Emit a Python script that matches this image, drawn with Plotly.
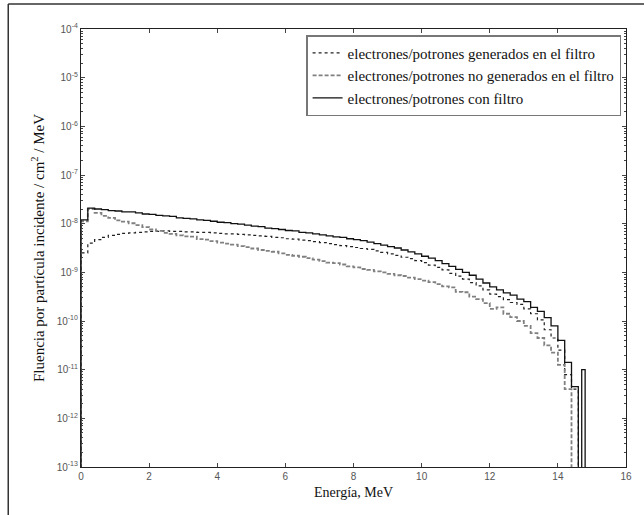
import plotly.graph_objects as go

# Bin left edges (MeV)
energia = [round(0.2 * i, 1) for i in range(73)] + [14.6, 14.7]
energia_fin = 14.8

# Fluence per incident particle / cm^2 / MeV
con_filtro = [
    1.20e-8, 2.09e-8, 2.00e-8, 1.95e-8, 1.86e-8, 1.82e-8, 1.74e-8, 1.74e-8, 1.66e-8, 1.58e-8,
    1.55e-8, 1.48e-8, 1.45e-8, 1.41e-8, 1.32e-8, 1.29e-8, 1.26e-8, 1.20e-8, 1.17e-8, 1.12e-8,
    1.07e-8, 1.05e-8, 1.00e-8, 9.77e-9, 9.33e-9, 8.91e-9, 8.71e-9, 8.13e-9, 7.94e-9, 7.59e-9,
    7.24e-9, 7.08e-9, 6.61e-9, 6.46e-9, 6.17e-9, 5.89e-9, 5.62e-9, 5.37e-9, 5.25e-9, 4.90e-9,
    4.68e-9, 4.47e-9, 4.17e-9, 3.89e-9, 3.63e-9, 3.39e-9, 3.16e-9, 2.88e-9, 2.63e-9, 2.40e-9,
    2.14e-9, 1.95e-9, 1.74e-9, 1.51e-9, 1.32e-9, 1.15e-9, 1.00e-9, 8.71e-10, 7.24e-10, 6.03e-10,
    5.01e-10, 4.37e-10, 3.80e-10, 3.39e-10, 2.82e-10, 2.51e-10, 1.91e-10, 1.58e-10, 1.17e-10, 7.94e-11,
    3.98e-11, 1.41e-11, 4.47e-12, 1e-15, 1.0e-11,
]

no_generados = [
    1.12e-8, 2.00e-8, 1.66e-8, 1.45e-8, 1.32e-8, 1.17e-8, 1.10e-8, 1.02e-8, 9.33e-9, 8.51e-9,
    7.59e-9, 7.08e-9, 6.46e-9, 6.17e-9, 5.75e-9, 5.50e-9, 5.40e-9, 4.80e-9, 4.68e-9, 4.37e-9,
    4.07e-9, 3.89e-9, 3.72e-9, 3.47e-9, 3.31e-9, 3.09e-9, 2.88e-9, 2.75e-9, 2.65e-9, 2.45e-9,
    2.29e-9, 2.19e-9, 2.09e-9, 1.95e-9, 1.82e-9, 1.70e-9, 1.58e-9, 1.55e-9, 1.45e-9, 1.32e-9,
    1.26e-9, 1.17e-9, 1.12e-9, 1.05e-9, 1.00e-9, 9.33e-10, 8.71e-10, 8.40e-10, 7.76e-10, 7.24e-10,
    6.76e-10, 6.30e-10, 5.75e-10, 5.13e-10, 4.90e-10, 3.98e-10, 3.90e-10, 3.16e-10, 2.82e-10, 2.34e-10,
    1.78e-10, 1.91e-10, 1.41e-10, 1.20e-10, 1.00e-10, 7.94e-11, 5.62e-11, 4.47e-11, 3.16e-11, 2.24e-11,
    1.26e-11, 3.98e-12, 1e-15, 1e-15, 1e-15,
]

generados = [
    2.51e-9, 3.98e-9, 4.68e-9, 5.25e-9, 5.75e-9, 6.03e-9, 6.31e-9, 6.46e-9, 6.61e-9, 6.76e-9,
    6.92e-9, 6.92e-9, 7.08e-9, 6.92e-9, 6.92e-9, 6.76e-9, 6.76e-9, 6.61e-9, 6.61e-9, 6.46e-9,
    6.31e-9, 6.17e-9, 6.17e-9, 6.03e-9, 5.89e-9, 5.75e-9, 5.62e-9, 5.50e-9, 5.25e-9, 5.13e-9,
    4.90e-9, 4.79e-9, 4.57e-9, 4.47e-9, 4.27e-9, 4.07e-9, 3.89e-9, 3.72e-9, 3.55e-9, 3.39e-9,
    3.24e-9, 3.09e-9, 2.95e-9, 2.75e-9, 2.57e-9, 2.40e-9, 2.24e-9, 2.04e-9, 1.91e-9, 1.74e-9,
    1.58e-9, 1.41e-9, 1.26e-9, 1.12e-9, 9.55e-10, 8.32e-10, 7.24e-10, 6.17e-10, 5.25e-10, 4.37e-10,
    3.55e-10, 3.16e-10, 2.75e-10, 2.40e-10, 2.19e-10, 1.78e-10, 1.41e-10, 1.05e-10, 6.61e-11, 4.47e-11,
    2.51e-11, 7.94e-12, 3.98e-12, 1e-15, 1e-15,
]

y_tick_vals = [1e-13, 1e-12, 1e-11, 1e-10, 1e-9, 1e-8, 1e-7, 1e-6, 1e-5, 1e-4]
y_tick_text = ["10<sup>-13</sup>", "10<sup>-12</sup>", "10<sup>-11</sup>", "10<sup>-10</sup>",
               "10<sup>-9</sup>", "10<sup>-8</sup>", "10<sup>-7</sup>", "10<sup>-6</sup>",
               "10<sup>-5</sup>", "10<sup>-4</sup>"]
x_tick_vals = [0, 2, 4, 6, 8, 10, 12, 14, 16]

names = ["electrones/potrones generados en el filtro",
         "electrones/potrones no generados en el filtro",
         "electrones/potrones con filtro"]

# minor log tick positions (2..9 x each decade)
minor_vals = [m * d for d in y_tick_vals[:-1] for m in range(2, 10)]

def step_xy(vals):
    xs = [0.0] + energia + [energia_fin]
    ys = [1e-15] + vals + [1e-15]
    return xs, ys

fig = go.Figure()
for vals, name, color, dash, width in [
    (generados, names[0], "#222222", "dot", 1.2),
    (no_generados, names[1], "#808080", "4px,2px", 1.8),
    (con_filtro, names[2], "#111111", "solid", 1.3),
]:
    xs, ys = step_xy(vals)
    fig.add_trace(go.Scatter(x=xs, y=ys, mode="lines", name=name,
                             line=dict(color=color, dash=dash, width=width, shape="hv")))

serif = "Liberation Serif"
sans = "Liberation Sans"

fig.update_layout(
    width=644, height=515,
    margin=dict(l=81, r=16, t=29, b=48),
    paper_bgcolor="white", plot_bgcolor="white",
    showlegend=True,
    legend=dict(x=0.991, y=0.986, xanchor="right", yanchor="top",
                bgcolor="white", bordercolor="#777777", borderwidth=1.5,
                font=dict(family=serif, size=15, color="#111111"),
                tracegroupgap=0, itemwidth=30),
    xaxis=dict(range=[0, 16], tickvals=x_tick_vals, ticks="inside", ticklen=4,
               showline=True, linecolor="#222222", linewidth=1.2, mirror="ticks",
               showgrid=False, zeroline=False,
               tickfont=dict(family=sans, size=10, color="#555555"),
               title=dict(text="Energía, MeV", font=dict(family=serif, size=14, color="#111111"),
                          standoff=6)),
    yaxis=dict(type="log", range=[-13, -4], tickvals=y_tick_vals, ticktext=y_tick_text,
               ticks="inside", ticklen=4,
               minor=dict(ticks="inside", ticklen=2, tickmode="array", tickvals=minor_vals,
                          tickcolor="#444444"),
               showline=True, linecolor="#222222", linewidth=1.2, mirror="ticks",
               showgrid=False, zeroline=False,
               tickfont=dict(family=sans, size=10, color="#555555"),
               title=dict(text="Fluencia por partícula incidente / cm<sup>2</sup> / MeV",
                          font=dict(family=serif, size=15, color="#111111"), standoff=8)),
    shapes=[
        dict(type="line", xref="paper", yref="paper", x0=-0.1335, x1=1.05, y0=1.057, y1=1.057,
             line=dict(color="#333333", width=1.5)),
        dict(type="line", xref="paper", yref="paper", x0=-0.1335, x1=-0.1335, y0=1.057, y1=-0.15,
             line=dict(color="#333333", width=1.5)),
    ],
)

fig.write_html("out.html")
